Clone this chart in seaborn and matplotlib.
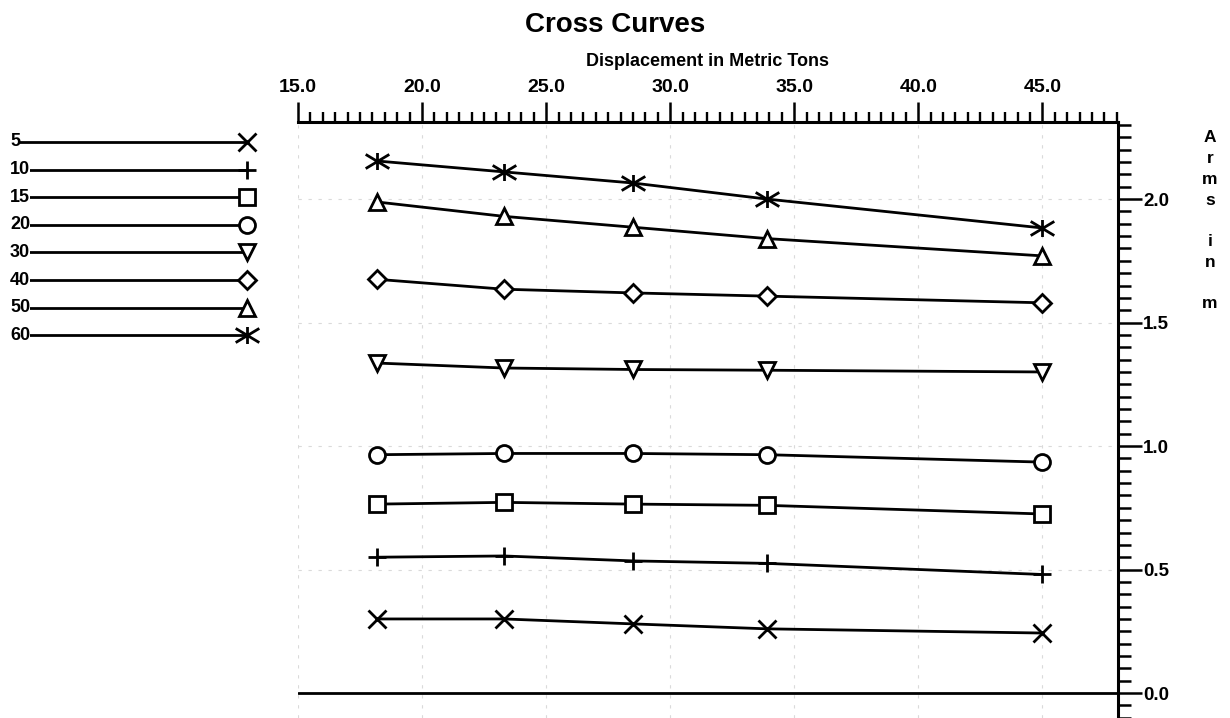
import numpy as np
import pandas as pd
import matplotlib
matplotlib.use("Agg")
import matplotlib.pyplot as plt
from matplotlib.path import Path
from matplotlib.markers import MarkerStyle
from matplotlib.ticker import MultipleLocator, FormatStrFormatter
import seaborn as sns

# Displacement (t) at which righting arms were computed
displacement = [18.2, 23.3, 28.5, 33.9, 45.0]

# Heel angles (deg) and righting arms (m) for each cross curve
angles = ["5", "10", "15", "20", "30", "40", "50", "60"]
arm_5 = [0.300, 0.300, 0.280, 0.260, 0.243]
arm_10 = [0.550, 0.555, 0.535, 0.525, 0.480]
arm_15 = [0.765, 0.772, 0.765, 0.760, 0.725]
arm_20 = [0.965, 0.970, 0.970, 0.965, 0.935]
arm_30 = [1.336, 1.316, 1.310, 1.307, 1.300]
arm_40 = [1.675, 1.635, 1.620, 1.607, 1.580]
arm_50 = [1.988, 1.930, 1.886, 1.840, 1.770]
arm_60 = [2.154, 2.110, 2.065, 2.000, 1.883]
arms = [arm_5, arm_10, arm_15, arm_20, arm_30, arm_40, arm_50, arm_60]

x_ticks_major = 5.0
y_ticks_major = 0.5

sns.set_theme(style="white")
plt.rcParams["font.family"] = ["Liberation Sans", "DejaVu Sans"]
plt.rcParams["font.weight"] = "bold"

# six-spoke star used for the 60 degree curve
star_path = Path(
    [(-1, -0.6), (1, 0.6), (-1, 0.6), (1, -0.6), (0, -0.72), (0, 0.72)],
    [Path.MOVETO, Path.LINETO, Path.MOVETO, Path.LINETO, Path.MOVETO, Path.LINETO],
)
marker_specs = [
    ("x", 12.5),
    ("+", 13.5),
    ("s", 11.5),
    ("o", 11.5),
    ("v", 12),
    ("D", 9.2),
    ("^", 12),
    (MarkerStyle(star_path), 17),
]

LW = 2.0
W, H = 1230, 718
fig = plt.figure(figsize=(W / 100, H / 100), dpi=100)
fig.patch.set_facecolor("white")

ax = fig.add_axes([298 / W, 0, (1118 - 298) / W, (718 - 122) / H])
ax.set_facecolor("white")

line_kws = dict(color="black", linewidth=LW, markerfacecolor="white",
                markeredgecolor="black", markeredgewidth=LW,
                legend=False, errorbar=None)

for angle, arm, (mk, ms) in zip(angles, arms, marker_specs):
    df = pd.DataFrame({"Displacement": displacement, "Arm": arm})
    sns.lineplot(data=df, x="Displacement", y="Arm", ax=ax, marker=mk,
                 markersize=ms, zorder=3, **line_kws)

ax.axhline(0.0, color="black", linewidth=LW, zorder=2)

ax.set_xlim(15.0, 48.05)
ax.set_ylim(-0.101, 2.312)
ax.set_xlabel("")
ax.set_ylabel("")

for side in ["left", "bottom"]:
    ax.spines[side].set_visible(False)
for side in ["top", "right"]:
    ax.spines[side].set_visible(True)
    ax.spines[side].set_color("black")
    ax.spines[side].set_linewidth(2.2)

ax.xaxis.set_major_locator(MultipleLocator(x_ticks_major))
ax.xaxis.set_minor_locator(MultipleLocator(0.5))
ax.xaxis.set_major_formatter(FormatStrFormatter("%.1f"))
ax.yaxis.set_major_locator(MultipleLocator(y_ticks_major))
ax.yaxis.set_minor_locator(MultipleLocator(0.05))
ax.yaxis.set_major_formatter(FormatStrFormatter("%.1f"))

ax.tick_params(axis="x", which="both", top=True, bottom=False, labeltop=True,
               labelbottom=False, direction="out", color="black")
ax.tick_params(axis="x", which="major", length=14.5, width=1.8, pad=4,
               labelsize=14, labelcolor="black")
ax.tick_params(axis="x", which="minor", length=7, width=1.7)
ax.tick_params(axis="y", which="both", right=True, left=False, labelright=True,
               labelleft=False, direction="out", color="black")
ax.tick_params(axis="y", which="major", length=17, width=1.8, pad=1,
               labelsize=13.5, labelcolor="black")
ax.tick_params(axis="y", which="minor", length=9.5, width=1.8)

ax.grid(True, which="major", color="#dadada", linestyle=(0, (3, 6)), linewidth=0.8)
ax.set_axisbelow(True)

# Titles
fig.text(615 / W, 1 - 25 / H, "Cross Curves", ha="center", va="center",
         fontsize=20, fontweight="bold", color="black")
fig.text(707 / W, 1 - 62 / H, "Displacement in Metric Tons", ha="center",
         va="center", fontsize=13, fontweight="bold", color="black")

# Vertical stacked axis title on the right
letters = ["A", "r", "m", "s", "", "i", "n", "", "m"]
for i, ch in enumerate(letters):
    if ch:
        fig.text(1210 / W, 1 - (138 + 20.7 * i) / H, ch, ha="center",
                 va="center", fontsize=12.5, fontweight="bold", color="black")

# Key of heel angles on the left
row_h = 27.6
n_rows = len(angles)
top_px = 142 - row_h / 2
leg = fig.add_axes([0, 1 - (top_px + n_rows * row_h) / H, 270 / W, n_rows * row_h / H])
leg.set_xlim(0, 1)
leg.set_ylim(n_rows - 0.5, -0.5)
leg.axis("off")
for i, (angle, (mk, ms)) in enumerate(zip(angles, marker_specs)):
    leg.plot([0.05, 0.915], [i, i], color="black", linewidth=LW, marker=mk,
             markersize=ms, markevery=[1], markerfacecolor="white",
             markeredgecolor="black", markeredgewidth=LW, zorder=2)
    leg.text(0.037, i, angle, ha="left", va="center", fontsize=13,
             fontweight="bold", color="black", zorder=3,
             bbox=dict(facecolor="white", edgecolor="none", pad=0.3))

fig.savefig("out.png", dpi=100, facecolor="white")
